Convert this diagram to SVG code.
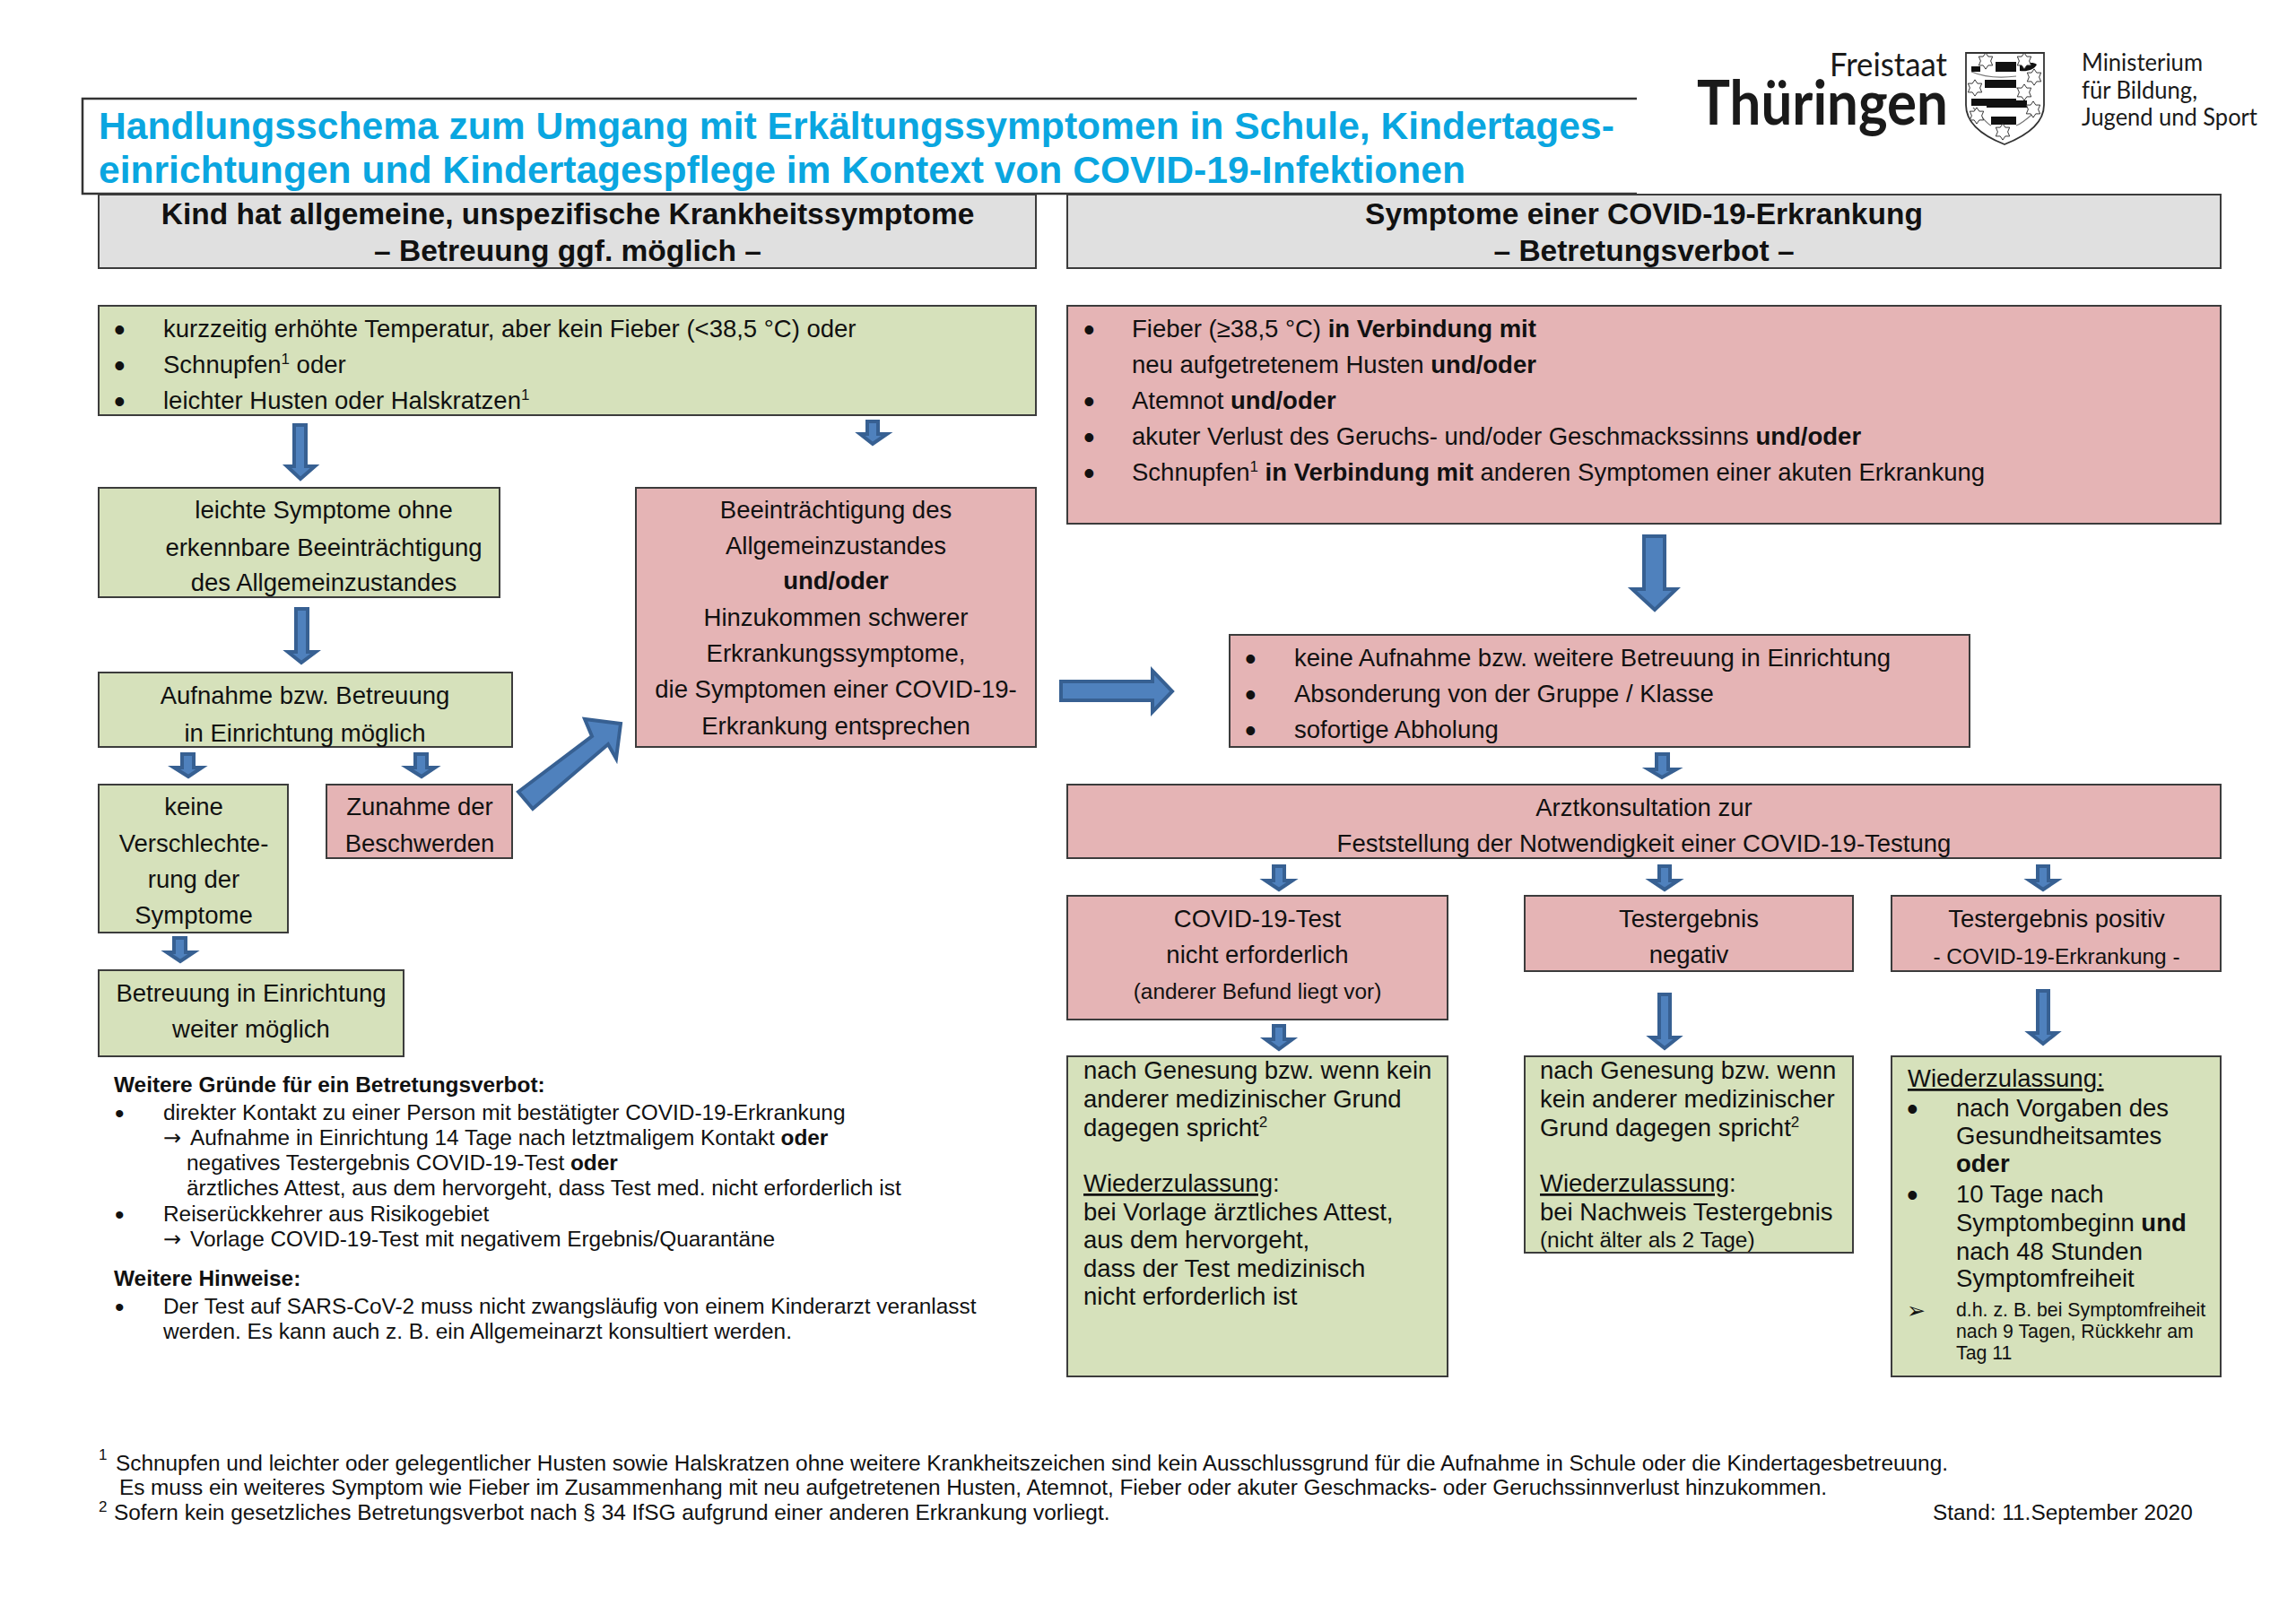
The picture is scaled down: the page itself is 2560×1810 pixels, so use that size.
<svg xmlns="http://www.w3.org/2000/svg" xmlns:xlink="http://www.w3.org/1999/xlink" width="2560" height="1810" viewBox="0 0 2560 1810">
<style>
text{font-family:"Liberation Sans",Arial,sans-serif;font-size:27.5px;fill:#111}
.c{text-anchor:middle}
.b,tspan.b{font-weight:700}
.h{font-size:33.5px;font-weight:700;text-anchor:middle}
.t{font-size:42.6px;font-weight:700;fill:#0AA6E0}
.s{font-size:24.4px}
.n{font-size:24.4px}
.x{font-size:21.3px}
.sup{font-size:17px}
.d{font-size:36px}
.ds{font-size:30px}
.u{text-decoration:underline}
.ar{font-family:"DejaVu Sans",sans-serif;font-size:24px}
.ch{font-family:"DejaVu Sans",sans-serif;font-size:25px}
.logo{font-family:Lato,"Open Sans",sans-serif;fill:#1a1a1a}
.l1{font-size:36px}
.l2{font-size:68px;font-weight:700}
.l3{font-size:26px}
.box{stroke:#3c3c3c;stroke-width:2}
.g{fill:#D6E1BB}.p{fill:#E5B4B5}.y{fill:#E0E0E0}
.a{fill:#4F81BD;stroke:#376092;stroke-width:4;stroke-linejoin:miter}
</style>
<defs>
<polygon id="star" points="0,-13 4,-7 11,-7 8,0 11,7 4,7 0,13 -4,7 -11,7 -8,0 -11,-7 -4,-7" fill="#fff" stroke="#333" stroke-width="1.4"/>
</defs>
<rect width="2560" height="1810" fill="#fff"/>

<g id="title">
<path d="M1825 110H92V216H1825" fill="#fff" stroke="#333" stroke-width="2.5"/>
<text class="t" x="110" y="154.5">Handlungsschema zum Umgang mit Erkältungssymptomen in Schule, Kindertages-</text>
<text class="t" x="110" y="203.5">einrichtungen und Kindertagespflege im Kontext von COVID-19-Infektionen</text>
</g>

<g id="logo">
<text class="logo l1" x="2171" y="85" text-anchor="end" textLength="131" lengthAdjust="spacingAndGlyphs">Freistaat</text>
<text class="logo l2" x="1892" y="139" textLength="280" lengthAdjust="spacingAndGlyphs">Thüringen</text>
<g id="shield">
<path d="M2192 59H2279V117C2279 138 2258 152 2235 161C2212 152 2192 138 2192 117Z" fill="#fff" stroke="#333" stroke-width="1.8"/>
<path d="M2225 69H2248V80H2225ZM2198 74H2208V80H2198ZM2252 71C2262 70 2268 69 2271 72C2268 78 2260 80 2252 79ZM2213 89H2248V98H2213ZM2198 110H2248V118H2198ZM2215 112H2260V120H2215ZM2220 130H2248V139H2220Z" fill="#111"/>
<path d="M2198 80C2210 85 2225 88 2248 85M2248 98L2262 100M2200 120C2210 130 2215 138 2220 140M2248 140C2255 138 2265 128 2272 122" fill="none" stroke="#777" stroke-width="1.2"/>
<use xlink:href="#star" href="#star" transform="translate(2214 68) scale(.7)"/>
<use xlink:href="#star" href="#star" transform="translate(2257 68) scale(.7)"/>
<use xlink:href="#star" href="#star" transform="translate(2268 86) scale(.7)"/>
<use xlink:href="#star" href="#star" transform="translate(2202 98) scale(.7)"/>
<use xlink:href="#star" href="#star" transform="translate(2257 103) scale(.7)"/>
<use xlink:href="#star" href="#star" transform="translate(2267 122) scale(.7)"/>
<use xlink:href="#star" href="#star" transform="translate(2204 129) scale(.7)"/>
<use xlink:href="#star" href="#star" transform="translate(2233 147) scale(.7)"/>
</g>
<text class="logo l3" x="2321" y="79" textLength="135" lengthAdjust="spacingAndGlyphs">Ministerium</text>
<text class="logo l3" x="2321" y="110" textLength="129" lengthAdjust="spacingAndGlyphs">für Bildung,</text>
<text class="logo l3" x="2321" y="140" textLength="196" lengthAdjust="spacingAndGlyphs">Jugend und Sport</text>
</g>

<g id="connectors">
<polygon class="a" points="328,474 341,474 341,520 351,520 335,534 320,520 328,520"/>
<polygon class="a" points="967,470 979,470 979,484 989,484 973,495 959,484 967,484"/>
<polygon class="a" points="330,679 343,679 343,727 352,727 336,739 321,727 330,727"/>
<polygon class="a" points="203,841 216,841 216,856 225,856 210,866 194,856 203,856"/>
<polygon class="a" points="463,841 476,841 476,856 485,856 470,866 454,856 463,856"/>
<polygon class="a" points="194,1046 207,1046 207,1062 216,1062 201,1072 186,1062 194,1062"/>
<polygon class="a" points="578,883 660,821 652,802 692,807 687,846 678,830 594,902"/>
<polygon class="a" points="1833,598 1856,598 1856,657 1869,657 1845,680 1820,657 1833,657"/>
<polygon class="a" points="1183,760 1285,760 1285,748 1307,771 1285,794 1285,781 1183,781"/>
<polygon class="a" points="1847,841 1860,841 1860,858 1869,858 1853,867 1838,858 1847,858"/>
<polygon class="a" points="1420,966 1432,966 1432,982 1441,982 1426,992 1411,982 1420,982"/>
<polygon class="a" points="1850,966 1862,966 1862,982 1871,982 1856,992 1841,982 1850,982"/>
<polygon class="a" points="2272,966 2284,966 2284,982 2293,982 2278,992 2263,982 2272,982"/>
<polygon class="a" points="1420,1144 1432,1144 1432,1159 1441,1159 1426,1170 1411,1159 1420,1159"/>
<polygon class="a" points="1850,1109 1862,1109 1862,1157 1871,1157 1856,1169 1841,1157 1850,1157"/>
<polygon class="a" points="2272,1105 2284,1105 2284,1152 2293,1152 2278,1164 2263,1152 2272,1152"/>
</g>

<g id="head-left">
<rect class="box y" x="110" y="217" width="1045" height="82"/>
<text class="h" x="633" y="250">Kind hat allgemeine, unspezifische Krankheitssymptome</text>
<text class="h" x="633" y="290.5">– Betreuung ggf. möglich –</text>
</g>
<g id="head-right">
<rect class="box y" x="1190" y="217" width="1286" height="82"/>
<text class="h" x="1833" y="250">Symptome einer COVID-19-Erkrankung</text>
<text class="h" x="1833" y="290.5">– Betretungsverbot –</text>
</g>

<g id="symptoms-mild">
<rect class="box g" x="110" y="341" width="1045" height="122"/>
<text class="d" x="127" y="380">•</text><text x="182" y="376">kurzzeitig erhöhte Temperatur, aber kein Fieber (&lt;38,5 °C) oder</text>
<text class="d" x="127" y="420">•</text><text x="182" y="416">Schnupfen<tspan class="sup" dy="-10">1</tspan><tspan dy="10"> oder</tspan></text>
<text class="d" x="127" y="460">•</text><text x="182" y="456">leichter Husten oder Halskratzen<tspan class="sup" dy="-10">1</tspan></text>
</g>

<g id="symptoms-covid">
<rect class="box p" x="1190" y="341" width="1286" height="243"/>
<text class="d" x="1208" y="380">•</text><text x="1262" y="376">Fieber (≥38,5 °C) <tspan class="b">in Verbindung mit</tspan></text>
<text x="1262" y="416">neu aufgetretenem Husten <tspan class="b">und/oder</tspan></text>
<text class="d" x="1208" y="460">•</text><text x="1262" y="456">Atemnot <tspan class="b">und/oder</tspan></text>
<text class="d" x="1208" y="500">•</text><text x="1262" y="496">akuter Verlust des Geruchs- und/oder Geschmackssinns <tspan class="b">und/oder</tspan></text>
<text class="d" x="1208" y="540">•</text><text x="1262" y="536">Schnupfen<tspan class="sup" dy="-10">1</tspan><tspan class="b" dy="10"> in Verbindung mit</tspan> anderen Symptomen einer akuten Erkrankung</text>
</g>

<g id="leichte">
<rect class="box g" x="110" y="544" width="447" height="122"/>
<text class="c" x="361" y="578">leichte Symptome ohne</text>
<text class="c" x="361" y="620">erkennbare Beeinträchtigung</text>
<text class="c" x="361" y="659">des Allgemeinzustandes</text>
</g>

<g id="beeintraechtigung">
<rect class="box p" x="709" y="544" width="446" height="289"/>
<text class="c" x="932" y="578">Beeinträchtigung des</text>
<text class="c" x="932" y="618">Allgemeinzustandes</text>
<text class="c b" x="932" y="657">und/oder</text>
<text class="c" x="932" y="698">Hinzukommen schwerer</text>
<text class="c" x="932" y="738">Erkrankungssymptome,</text>
<text class="c" x="932" y="778">die Symptomen einer COVID-19-</text>
<text class="c" x="932" y="819">Erkrankung entsprechen</text>
</g>

<g id="aufnahme">
<rect class="box g" x="110" y="750" width="461" height="83"/>
<text class="c" x="340" y="785">Aufnahme bzw. Betreuung</text>
<text class="c" x="340" y="827">in Einrichtung möglich</text>
</g>

<g id="keine">
<rect class="box g" x="110" y="875" width="211" height="165"/>
<text class="c" x="216" y="909">keine</text>
<text class="c" x="216" y="950">Verschlechte-</text>
<text class="c" x="216" y="990">rung der</text>
<text class="c" x="216" y="1030">Symptome</text>
</g>

<g id="zunahme">
<rect class="box p" x="364" y="875" width="207" height="82"/>
<text class="c" x="468" y="909">Zunahme der</text>
<text class="c" x="468" y="950">Beschwerden</text>
</g>

<g id="betreuung">
<rect class="box g" x="110" y="1082" width="340" height="96"/>
<text class="c" x="280" y="1117">Betreuung in Einrichtung</text>
<text class="c" x="280" y="1157">weiter möglich</text>
</g>

<g id="hinweise">
<text class="s b" x="127" y="1218">Weitere Gründe für ein Betretungsverbot:</text>
<text class="ds" x="128" y="1252">•</text><text class="s" x="182" y="1249">direkter Kontakt zu einer Person mit bestätigter COVID-19-Erkrankung</text>
<text class="s" x="182" y="1277"><tspan class="ar">→</tspan><tspan x="212">Aufnahme in Einrichtung 14 Tage nach letztmaligem Kontakt </tspan><tspan class="b">oder</tspan></text>
<text class="s" x="208" y="1305">negatives Testergebnis COVID-19-Test <tspan class="b">oder</tspan></text>
<text class="s" x="208" y="1333">ärztliches Attest, aus dem hervorgeht, dass Test med. nicht erforderlich ist</text>
<text class="ds" x="128" y="1365">•</text><text class="s" x="182" y="1362">Reiserückkehrer aus Risikogebiet</text>
<text class="s" x="182" y="1390"><tspan class="ar">→</tspan><tspan x="212">Vorlage COVID-19-Test mit negativem Ergebnis/Quarantäne</tspan></text>
<text class="s b" x="127" y="1434">Weitere Hinweise:</text>
<text class="ds" x="128" y="1468">•</text><text class="s" x="182" y="1465">Der Test auf SARS-CoV-2 muss nicht zwangsläufig von einem Kinderarzt veranlasst</text>
<text class="s" x="182" y="1493">werden. Es kann auch z. B. ein Allgemeinarzt konsultiert werden.</text>
</g>

<g id="massnahmen">
<rect class="box p" x="1371" y="708" width="825" height="125"/>
<text class="d" x="1388" y="747">•</text><text x="1443" y="743">keine Aufnahme bzw. weitere Betreuung in Einrichtung</text>
<text class="d" x="1388" y="787">•</text><text x="1443" y="783">Absonderung von der Gruppe / Klasse</text>
<text class="d" x="1388" y="827">•</text><text x="1443" y="823">sofortige Abholung</text>
</g>

<g id="arzt">
<rect class="box p" x="1190" y="875" width="1286" height="82"/>
<text class="c" x="1833" y="910">Arztkonsultation zur</text>
<text class="c" x="1833" y="950">Feststellung der Notwendigkeit einer COVID-19-Testung</text>
</g>

<g id="test-nicht">
<rect class="box p" x="1190" y="999" width="424" height="138"/>
<text class="c" x="1402" y="1034">COVID-19-Test</text>
<text class="c" x="1402" y="1074">nicht erforderlich</text>
<text class="c n" x="1402" y="1114">(anderer Befund liegt vor)</text>
</g>

<g id="test-negativ">
<rect class="box p" x="1700" y="999" width="366" height="84"/>
<text class="c" x="1883" y="1034">Testergebnis</text>
<text class="c" x="1883" y="1074">negativ</text>
</g>

<g id="test-positiv">
<rect class="box p" x="2109" y="999" width="367" height="84"/>
<text class="c" x="2293" y="1034">Testergebnis positiv</text>
<text class="c n" x="2293" y="1075">- COVID-19-Erkrankung -</text>
</g>

<g id="zulassung-attest">
<rect class="box g" x="1190" y="1178" width="424" height="357"/>
<text x="1208" y="1203">nach Genesung bzw. wenn kein</text>
<text x="1208" y="1235">anderer medizinischer Grund</text>
<text x="1208" y="1267">dagegen spricht<tspan class="sup" dy="-10">2</tspan></text>
<text x="1208" y="1329"><tspan class="u">Wiederzulassung</tspan>:</text>
<text x="1208" y="1361">bei Vorlage ärztliches Attest,</text>
<text x="1208" y="1392">aus dem hervorgeht,</text>
<text x="1208" y="1424">dass der Test medizinisch</text>
<text x="1208" y="1455">nicht erforderlich ist</text>
</g>

<g id="zulassung-negativ">
<rect class="box g" x="1700" y="1178" width="366" height="219"/>
<text x="1717" y="1203">nach Genesung bzw. wenn</text>
<text x="1717" y="1235">kein anderer medizinischer</text>
<text x="1717" y="1267">Grund dagegen spricht<tspan class="sup" dy="-10">2</tspan></text>
<text x="1717" y="1329"><tspan class="u">Wiederzulassung</tspan>:</text>
<text x="1717" y="1361">bei Nachweis Testergebnis</text>
<text class="n" x="1717" y="1391">(nicht älter als 2 Tage)</text>
</g>

<g id="zulassung-positiv">
<rect class="box g" x="2109" y="1178" width="367" height="357"/>
<text x="2127" y="1212"><tspan class="u">Wiederzulassung:</tspan></text>
<text class="d" x="2126" y="1249">•</text><text x="2181" y="1245">nach Vorgaben des</text>
<text x="2181" y="1276">Gesundheitsamtes</text>
<text class="b" x="2181" y="1307">oder</text>
<text class="d" x="2126" y="1345">•</text><text x="2181" y="1341">10 Tage nach</text>
<text x="2181" y="1373">Symptombeginn <tspan class="b">und</tspan></text>
<text x="2181" y="1405">nach 48 Stunden</text>
<text x="2181" y="1435">Symptomfreiheit</text>
<text class="ch" x="2126" y="1470">➢</text>
<text class="x" x="2181" y="1468">d.h. z. B. bei Symptomfreiheit</text>
<text class="x" x="2181" y="1492">nach 9 Tagen, Rückkehr am</text>
<text class="x" x="2181" y="1516">Tag 11</text>
</g>

<g id="fussnoten">
<text class="sup" x="110" y="1628">1</text>
<text class="s" x="129" y="1639.5" textLength="2043">Schnupfen und leichter oder gelegentlicher Husten sowie Halskratzen ohne weitere Krankheitszeichen sind kein Ausschlussgrund für die Aufnahme in Schule oder die Kindertagesbetreuung.</text>
<text class="s" x="133" y="1667" textLength="1904">Es muss ein weiteres Symptom wie Fieber im Zusammenhang mit neu aufgetretenen Husten, Atemnot, Fieber oder akuter Geschmacks- oder Geruchssinnverlust hinzukommen.</text>
<text class="sup" x="110" y="1686">2</text>
<text class="s" x="127" y="1695">Sofern kein gesetzliches Betretungsverbot nach § 34 IfSG aufgrund einer anderen Erkrankung vorliegt.</text>
<text class="s" x="2155" y="1695">Stand: 11.September 2020</text>
</g>
</svg>
